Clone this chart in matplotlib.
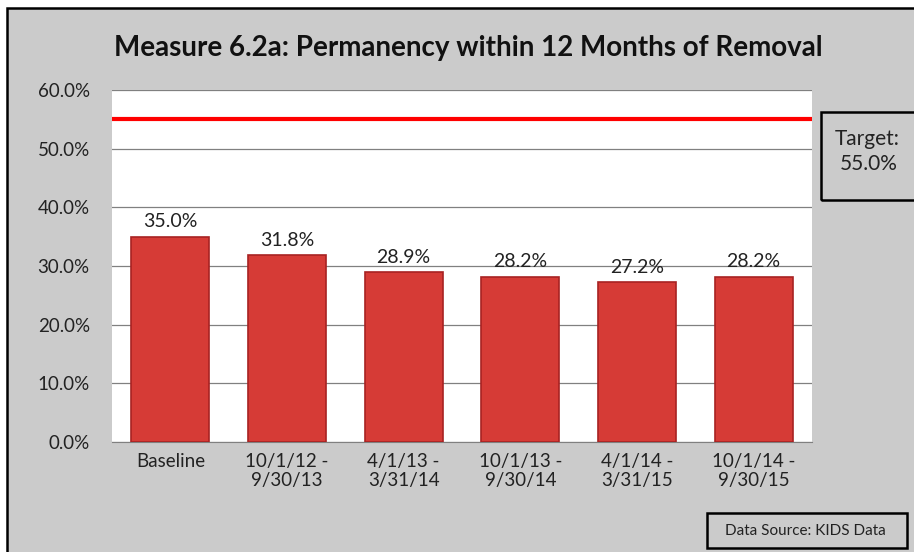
import matplotlib
matplotlib.use("Agg")
import matplotlib.pyplot as plt
from matplotlib.patches import Rectangle
from matplotlib.ticker import FuncFormatter, MultipleLocator

categories = ["Baseline", "10/1/12 -\n9/30/13", "4/1/13 -\n3/31/14", "10/1/13 -\n9/30/14",
              "4/1/14 -\n3/31/15", "10/1/14 -\n9/30/15"]
values = [35.0, 31.8, 28.9, 28.2, 27.2, 28.2]
target = 55.0
title = "Measure 6.2a: Permanency within 12 Months of Removal"

plt.rcParams['font.family'] = ['Lato', 'DejaVu Sans']

W, H = 914, 552
fig = plt.figure(figsize=(W / 100, H / 100), dpi=100)
fig.patch.set_facecolor('white')

# grey chart background with black frame (right and bottom edges run off the image)
bg = Rectangle((7 / W, -0.05), (W + 20) / W, (H - 8) / H + 0.05, transform=fig.transFigure,
               facecolor='#cbcbcb', edgecolor='black', linewidth=1.8, zorder=-10)
fig.patches.append(bg)

left, right, top, bottom = 112, 812, 90, 442
ax = fig.add_axes([left / W, 1 - bottom / H, (right - left) / W, (bottom - top) / H])
ax.set_zorder(5)
ax.set_facecolor('white')

x = list(range(len(categories)))
ax.bar(x, values, width=0.67, color='#d63b36', edgecolor='#a82222', linewidth=1.2, zorder=3)
for xi, v in zip(x, values):
    ax.text(xi, v + 1.1, f"{v:.1f}%", ha='center', va='bottom', fontsize=14, color='#222222')

ax.axhline(target, color='#ff0000', linewidth=3, zorder=4)

ax.set_ylim(0, 60)
ax.set_xlim(-0.5, len(categories) - 0.5)
ax.yaxis.set_major_locator(MultipleLocator(10))
ax.yaxis.set_major_formatter(FuncFormatter(lambda v, p: f"{v:.1f}%"))
ax.grid(axis='y', color='#808080', linewidth=0.9, zorder=1)
ax.set_axisbelow(True)
ax.set_xticks(x)
ax.set_xticklabels(categories, fontsize=13.5, color='#222222', linespacing=1.15)
ax.tick_params(axis='y', labelsize=13.5, labelcolor='#222222', length=0, pad=16)
ax.tick_params(axis='x', length=0, pad=8)
for s in ax.spines.values():
    s.set_visible(False)
ax.spines['bottom'].set_visible(True)
ax.spines['bottom'].set_color('#808080')

fig.text(468 / W, 1 - 48 / H, title, ha='center', va='center', fontsize=20,
         fontweight='bold', color='#111111')

# target box
tb = Rectangle((821 / W, 1 - 200 / H), 100 / W, 88 / H, transform=fig.transFigure,
               facecolor='none', edgecolor='black', linewidth=1.8, zorder=5)
fig.patches.append(tb)
fig.text(867 / W, 1 - 139 / H, "Target:", ha='center', va='center', fontsize=15, color='#222222')
fig.text(869 / W, 1 - 164 / H, "55.0%", ha='center', va='center', fontsize=15, color='#222222')

# data source box
db = Rectangle((707 / W, 1 - 548 / H), 200 / W, 35 / H, transform=fig.transFigure,
               facecolor='none', edgecolor='black', linewidth=1.8, zorder=5)
fig.patches.append(db)
fig.text(805 / W, 1 - 531 / H, "Data Source: KIDS Data", ha='center', va='center',
         fontsize=11, color='#222222')

fig.savefig("out.png", dpi=100)
